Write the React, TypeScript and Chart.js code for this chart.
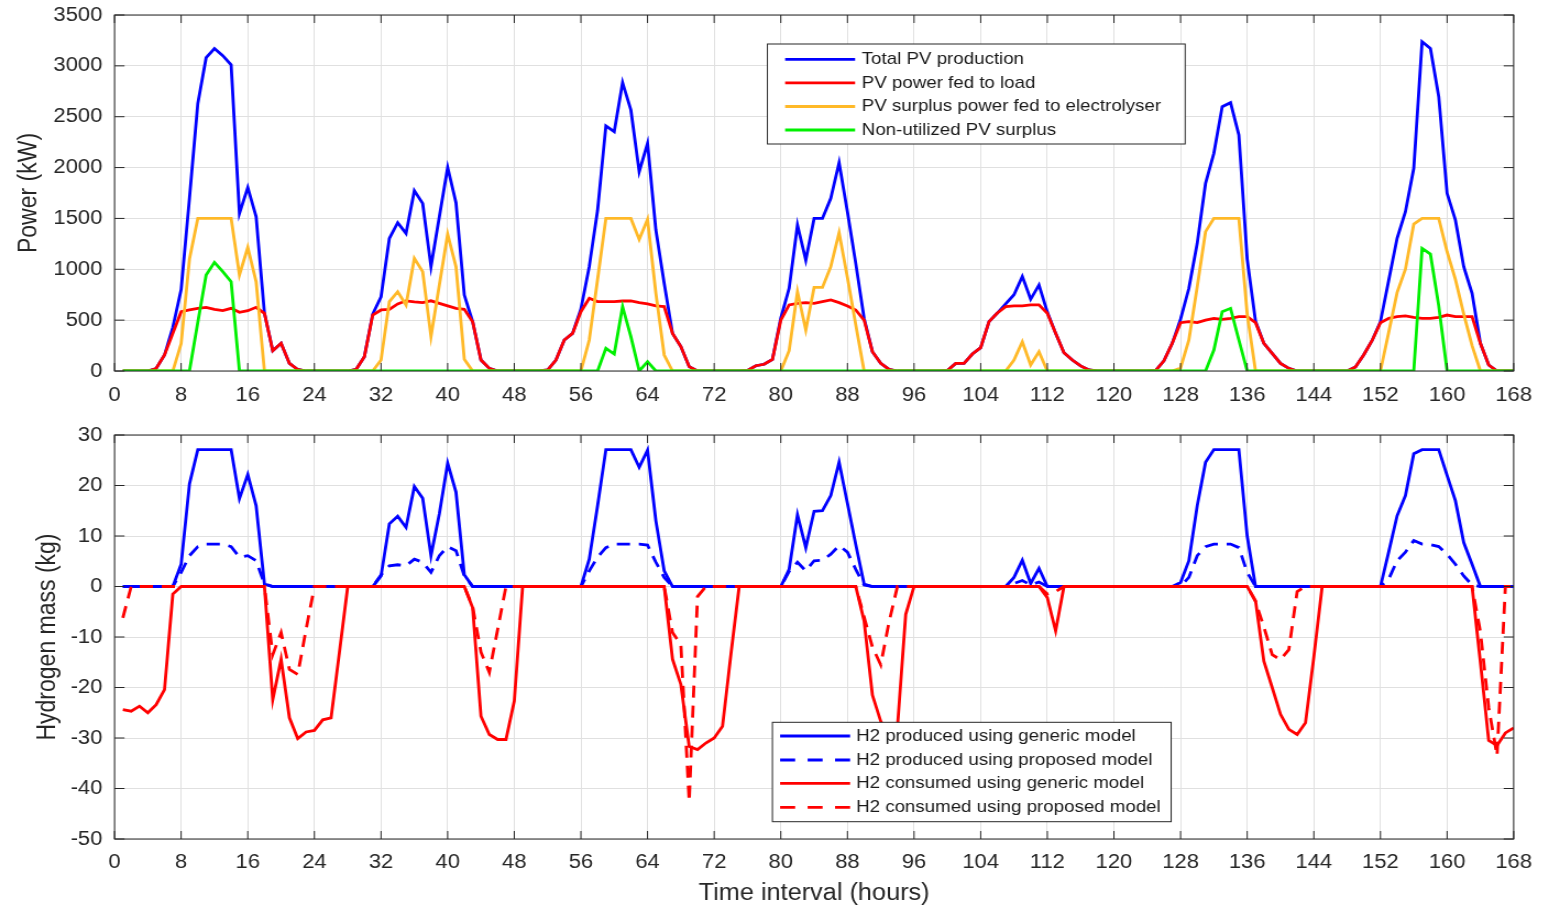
import React, { useEffect, useRef } from 'react';
import { Chart, registerables } from 'chart.js';

Chart.register(...registerables);

// ---------- data ----------
const HOURS = Array.from({ length: 168 }, (_, i) => i + 1);
const X_TICKS = [0, 8, 16, 24, 32, 40, 48, 56, 64, 72, 80, 88, 96, 104, 112, 120, 128, 136, 144, 152, 160, 168];
const POWER_TICKS = [0, 500, 1000, 1500, 2000, 2500, 3000, 3500];
const MASS_TICKS = [-50, -40, -30, -20, -10, 0, 10, 20, 30];

const TOTAL_PV = [
  0, 0, 0, 0, 25, 157, 430, 800, 1700, 2630, 3080, 3170, 3100, 3010, 1550, 1805, 1517, 570, 200, 272, 75, 15, 0, 0,
  0, 0, 0, 0, 15, 140, 560, 730, 1304, 1458, 1353, 1773, 1648, 1026, 1517, 2000, 1655, 747, 485, 108, 26, 0, 0, 0,
  0, 0, 0, 10, 108, 305, 370, 610, 1026, 1580, 2409, 2353, 2835, 2566, 1960, 2238, 1386, 862, 370, 240, 43, 0, 0, 0,
  0, 0, 0, 5, 52, 66, 115, 520, 813, 1435, 1091, 1500, 1500, 1698, 2048, 1566, 1058, 518, 190, 75, 16, 0, 0, 0,
  0, 0, 0, 5, 75, 75, 167, 230, 485, 570, 660, 750, 930, 705, 846, 580, 370, 180, 108, 50, 10, 0, 0, 0,
  0, 0, 0, 0, 5, 100, 272, 510, 813, 1255, 1845, 2140, 2599, 2638, 2320, 1100, 490, 272, 174, 75, 26, 0, 0, 0,
  0, 0, 0, 0, 40, 160, 300, 485, 895, 1304, 1566, 1993, 3238, 3172, 2697, 1747, 1485, 1026, 764, 272, 59, 0, 0, 0,
];
const PV_TO_LOAD = [
  0, 0, 0, 0, 25, 157, 370, 583, 600, 616, 626, 606, 593, 616, 577, 593, 626, 567, 200, 272, 75, 15, 0, 0,
  0, 0, 0, 0, 15, 140, 550, 600, 606, 660, 690, 680, 672, 690, 665, 640, 616, 606, 485, 108, 26, 0, 0, 0,
  0, 0, 0, 10, 108, 305, 370, 583, 715, 682, 682, 682, 688, 690, 672, 660, 640, 633, 370, 240, 43, 0, 0, 0,
  0, 0, 0, 5, 52, 66, 115, 500, 650, 665, 672, 665, 682, 698, 672, 640, 600, 501, 190, 75, 16, 0, 0, 0,
  0, 0, 0, 5, 75, 75, 167, 230, 485, 570, 632, 640, 640, 650, 650, 567, 370, 180, 108, 50, 10, 0, 0, 0,
  0, 0, 0, 0, 5, 100, 272, 475, 485, 475, 500, 518, 508, 518, 534, 534, 475, 272, 174, 75, 26, 0, 0, 0,
  0, 0, 0, 0, 40, 160, 300, 475, 518, 534, 541, 528, 518, 518, 528, 550, 534, 534, 534, 272, 59, 0, 0, 0,
];
const PV_TO_ELECTROLYSER = [
  0, 0, 0, 0, 0, 0, 0, 270, 1100, 1500, 1500, 1500, 1500, 1500, 944, 1216, 878, 0, 0, 0, 0, 0, 0, 0,
  0, 0, 0, 0, 0, 0, 0, 108, 682, 780, 649, 1108, 977, 338, 846, 1344, 1026, 115, 0, 0, 0, 0, 0, 0,
  0, 0, 0, 0, 0, 0, 0, 0, 305, 900, 1500, 1500, 1500, 1500, 1294, 1491, 764, 157, 0, 0, 0, 0, 0, 0,
  0, 0, 0, 0, 0, 0, 0, 0, 200, 780, 403, 822, 822, 1026, 1360, 920, 455, 0, 0, 0, 0, 0, 0, 0,
  0, 0, 0, 0, 0, 0, 0, 0, 0, 0, 0, 108, 288, 59, 190, 0, 0, 0, 0, 0, 0, 0, 0, 0,
  0, 0, 0, 0, 0, 0, 0, 30, 305, 829, 1370, 1500, 1500, 1500, 1500, 560, 0, 0, 0, 0, 0, 0, 0, 0,
  0, 0, 0, 0, 0, 0, 0, 0, 383, 770, 1000, 1445, 1500, 1500, 1500, 1173, 900, 560, 250, 0, 0, 0, 0, 0,
];
const NON_UTILIZED = [
  0, 0, 0, 0, 0, 0, 0, 0, 0, 480, 944, 1068, 977, 878, 0, 0, 0, 0, 0, 0, 0, 0, 0, 0,
  0, 0, 0, 0, 0, 0, 0, 0, 0, 0, 0, 0, 0, 0, 0, 0, 0, 0, 0, 0, 0, 0, 0, 0,
  0, 0, 0, 0, 0, 0, 0, 0, 0, 0, 223, 167, 632, 338, 0, 92, 0, 0, 0, 0, 0, 0, 0, 0,
  0, 0, 0, 0, 0, 0, 0, 0, 0, 0, 0, 0, 0, 0, 0, 0, 0, 0, 0, 0, 0, 0, 0, 0,
  0, 0, 0, 0, 0, 0, 0, 0, 0, 0, 0, 0, 0, 0, 0, 0, 0, 0, 0, 0, 0, 0, 0, 0,
  0, 0, 0, 0, 0, 0, 0, 0, 0, 0, 0, 206, 583, 616, 305, 0, 0, 0, 0, 0, 0, 0, 0, 0,
  0, 0, 0, 0, 0, 0, 0, 0, 0, 0, 0, 0, 1206, 1150, 640, 0, 0, 0, 0, 0, 0, 0, 0, 0,
];

const H2_PROD_GENERIC = [
  0, 0, 0, 0, 0, 0, 0, 4.4, 20.3, 27.1, 27.1, 27.1, 27.1, 27.1, 17.4, 22.2, 16.0, 0.5, 0, 0, 0, 0, 0, 0,
  0, 0, 0, 0, 0, 0, 0, 2.1, 12.4, 13.9, 11.7, 19.8, 17.5, 6.1, 14.4, 24.4, 18.7, 2.3, 0, 0, 0, 0, 0, 0,
  0, 0, 0, 0, 0, 0, 0, 0, 5.4, 16.0, 27.1, 27.1, 27.1, 27.1, 23.6, 27.0, 13.0, 3.1, 0, 0, 0, 0, 0, 0,
  0, 0, 0, 0, 0, 0, 0, 0, 3.4, 14.2, 7.7, 14.9, 15.0, 18.0, 24.6, 16.5, 8.3, 0.5, 0, 0, 0, 0, 0, 0,
  0, 0, 0, 0, 0, 0, 0, 0, 0, 0, 0, 1.8, 5.2, 0.6, 3.6, 0, 0, 0, 0, 0, 0, 0, 0, 0,
  0, 0, 0, 0, 0, 0, 0, 0.8, 5.1, 16.0, 24.6, 27.1, 27.1, 27.1, 27.1, 10.0, 0, 0, 0, 0, 0, 0, 0, 0,
  0, 0, 0, 0, 0, 0, 0, 0, 6.9, 14.0, 18.0, 26.3, 27.1, 27.1, 27.1, 22.0, 17.0, 8.7, 4.4, 0, 0, 0, 0, 0,
];
const H2_PROD_PROPOSED = [
  0, 0, 0, 0, 0, 0, 0, 2.8, 6.1, 7.9, 8.4, 8.4, 8.4, 7.9, 5.8, 6.1, 5.1, 0.5, 0, 0, 0, 0, 0, 0,
  0, 0, 0, 0, 0, 0, 0, 2.3, 4.1, 4.3, 4.1, 5.4, 4.8, 2.8, 6.1, 7.9, 7.1, 2.1, 0, 0, 0, 0, 0, 0,
  0, 0, 0, 0, 0, 0, 0, 0, 3.1, 5.8, 7.7, 8.4, 8.4, 8.4, 8.4, 8.2, 4.8, 1.8, 0, 0, 0, 0, 0, 0,
  0, 0, 0, 0, 0, 0, 0, 0, 3.0, 4.8, 3.1, 5.1, 5.2, 6.4, 8.1, 6.8, 3.4, 0.3, 0, 0, 0, 0, 0, 0,
  0, 0, 0, 0, 0, 0, 0, 0, 0, 0, 0, 0.6, 1.2, 0.3, 0.9, 0, 0, 0, 0, 0, 0, 0, 0, 0,
  0, 0, 0, 0, 0, 0, 0, 0, 1.8, 6.1, 7.9, 8.4, 8.4, 8.4, 7.7, 2.8, 0, 0, 0, 0, 0, 0, 0, 0,
  0, 0, 0, 0, 0, 0, 0, 0, 1.5, 5.1, 6.8, 9.1, 8.4, 8.3, 7.9, 6.4, 4.4, 2.1, 0.3, 0, 0, 0, 0, 0,
];
const H2_CONS_GENERIC = [
  -24.4, -24.7, -23.7, -25.0, -23.4, -20.4, -1.5, 0, 0, 0, 0, 0, 0, 0, 0, 0, 0, 0, -22.4, -14.4, -26.0, -30.1, -28.8, -28.5,
  -26.4, -26.0, -13.1, 0, 0, 0, 0, 0, 0, 0, 0, 0, 0, 0, 0, 0, 0, 0, -4.2, -25.7, -29.3, -30.3, -30.3, -22.7,
  0, 0, 0, 0, 0, 0, 0, 0, 0, 0, 0, 0, 0, 0, 0, 0, 0, 0, -14.4, -19.4, -31.7, -32.3, -31.0, -30.0,
  -27.7, -13.6, 0, 0, 0, 0, 0, 0, 0, 0, 0, 0, 0, 0, 0, 0, 0, -6.8, -21.5, -26.7, -29.5, -28.0, -5.5, 0,
  0, 0, 0, 0, 0, 0, 0, 0, 0, 0, 0, 0, 0, 0, 0, -2.2, -8.8, 0, 0, 0, 0, 0, 0, 0,
  0, 0, 0, 0, 0, 0, 0, 0, 0, 0, 0, 0, 0, 0, 0, 0, -2.8, -14.8, -20.0, -25.3, -28.3, -29.3, -27.0, -14.0,
  0, 0, 0, 0, 0, 0, 0, 0, 0, 0, 0, 0, 0, 0, 0, 0, 0, 0, 0, -15.0, -30.5, -31.5, -29.0, -28.0,
];
const H2_CONS_PROPOSED = [
  -6.2, 0, 0, 0, 0, 0, 0, 0, 0, 0, 0, 0, 0, 0, 0, 0, 0, 0, -13.5, -9.1, -16.4, -17.4, -8.5, 0,
  0, 0, 0, 0, 0, 0, 0, 0, 0, 0, 0, 0, 0, 0, 0, 0, 0, 0, -4.0, -13.0, -17.0, -8.5, 0, 0,
  0, 0, 0, 0, 0, 0, 0, 0, 0, 0, 0, 0, 0, 0, 0, 0, 0, 0, -9.1, -11.5, -42.6, -2.0, 0, 0,
  0, 0, 0, 0, 0, 0, 0, 0, 0, 0, 0, 0, 0, 0, 0, 0, 0, -6.0, -12.0, -15.5, -7.0, 0, 0, 0,
  0, 0, 0, 0, 0, 0, 0, 0, 0, 0, 0, 0, 0, 0, 0, -1.5, -1.0, 0, 0, 0, 0, 0, 0, 0,
  0, 0, 0, 0, 0, 0, 0, 0, 0, 0, 0, 0, 0, 0, 0, 0, -3.0, -8.0, -13.5, -14.5, -12.5, -1.0, 0, 0,
  0, 0, 0, 0, 0, 0, 0, 0, 0, 0, 0, 0, 0, 0, 0, 0, 0, 0, 0, -9.0, -24.0, -33.5, 0, 0,
];

// ---------- styling ----------
const SX = 1.1; // horizontal stretch of the original figure
const PAGE_W = 1560;
const CW = Math.round(PAGE_W / SX);
const PLOT_L = 114.5 / SX;
const PLOT_R = 1513.5 / SX;
const FONT = '"Liberation Sans", Arial, Helvetica, sans-serif';
const AXIS = '#262626';
const GRID = '#e0e0e0';
const LW = 2.8;
const BLUE = '#0000ff';
const RED = '#ff0000';
const YELLOW = '#ffb928';
const GREEN = '#00f000';
const DASH = [12, 8];

Chart.defaults.font.family = FONT;

const toXY = (vals: number[]) => vals.map((v, i) => ({ x: HOURS[i], y: v }));

const framePlugin = (yTicks: number[]) => ({
  id: 'matlabFrame',
  afterDatasetsDraw(chart: any) {
    const { ctx, chartArea: a, scales } = chart;
    ctx.save();
    ctx.strokeStyle = AXIS;
    ctx.lineWidth = 1;
    ctx.setLineDash([]);
    ctx.strokeRect(a.left, a.top, a.right - a.left, a.bottom - a.top);
    ctx.beginPath();
    for (const t of X_TICKS) {
      const x = scales.x.getPixelForValue(t);
      ctx.moveTo(x, a.bottom);
      ctx.lineTo(x, a.bottom - 8);
      ctx.moveTo(x, a.top);
      ctx.lineTo(x, a.top + 8);
    }
    for (const t of yTicks) {
      const y = scales.y.getPixelForValue(t);
      ctx.moveTo(a.left, y);
      ctx.lineTo(a.left + 10 / SX, y);
      ctx.moveTo(a.right, y);
      ctx.lineTo(a.right - 10 / SX, y);
    }
    ctx.stroke();
    ctx.restore();
  },
});

type LegendCfg = { left: number; right: number; top: number; bottom: number; lineX1: number; lineX2: number; textX: number; rows: number[] };

const legendPlugin = (cfg: LegendCfg) => ({
  id: 'boxLegend',
  afterDraw(chart: any) {
    const { ctx } = chart;
    const ds = chart.data.datasets;
    ctx.save();
    const l = cfg.left / SX, r = cfg.right / SX;
    ctx.fillStyle = '#ffffff';
    ctx.fillRect(l, cfg.top, r - l, cfg.bottom - cfg.top);
    ctx.strokeStyle = AXIS;
    ctx.lineWidth = 1;
    ctx.setLineDash([]);
    ctx.strokeRect(l, cfg.top, r - l, cfg.bottom - cfg.top);
    ds.forEach((d: any, i: number) => {
      const y = cfg.rows[i];
      const x1 = cfg.lineX1 / SX, x2 = cfg.lineX2 / SX;
      ctx.strokeStyle = d.borderColor;
      ctx.lineWidth = LW;
      if (d.borderDash && d.borderDash.length) {
        const len = x2 - x1;
        const dash = len * 0.215;
        ctx.setLineDash([dash, (len - 3 * dash) / 2]);
      } else ctx.setLineDash([]);
      ctx.beginPath();
      ctx.moveTo(x1, y);
      ctx.lineTo(x2, y);
      ctx.stroke();
      ctx.setLineDash([]);
      ctx.fillStyle = '#1a1a1a';
      ctx.font = `17px ${FONT}`;
      ctx.textBaseline = 'middle';
      ctx.textAlign = 'left';
      ctx.fillText(d.label, cfg.textX / SX, y);
    });
    ctx.restore();
  },
});

function buildOptions(o: { yMin: number; yMax: number; yTicks: number[]; xH: number; xPad: number; yTitle: string; yTitlePad: number; xTitle?: string }) {
  return {
    responsive: false,
    animation: false as const,
    devicePixelRatio: 1,
    events: [],
    layout: { padding: { left: 0, right: CW - PLOT_R, top: 15, bottom: 0 } },
    plugins: { legend: { display: false }, tooltip: { enabled: false } },
    elements: { point: { radius: 0 }, line: { tension: 0, borderWidth: LW } },
    scales: {
      x: {
        type: 'linear' as const,
        min: 0,
        max: 168,
        afterFit: (s: any) => { s.height = o.xH; s.paddingLeft = 0; s.paddingRight = 0; s.paddingTop = 0; s.paddingBottom = 0; },
        afterBuildTicks: (s: any) => { s.ticks = X_TICKS.map((v) => ({ value: v })); },
        ticks: { color: AXIS, font: { size: 20 }, padding: o.xPad, maxRotation: 0, autoSkip: false, callback: (v: any) => String(v) },
        grid: { color: GRID, lineWidth: 1, drawTicks: false },
        border: { display: false },
        title: o.xTitle
          ? { display: true, text: o.xTitle, color: AXIS, font: { size: 23 }, padding: { top: 0, bottom: 0 } }
          : { display: false },
      },
      y: {
        type: 'linear' as const,
        min: o.yMin,
        max: o.yMax,
        afterFit: (s: any) => { s.width = PLOT_L; s.paddingTop = 0; s.paddingBottom = 0; s.paddingLeft = 0; s.paddingRight = 0; },
        afterBuildTicks: (s: any) => { s.ticks = o.yTicks.map((v) => ({ value: v })); },
        ticks: { color: AXIS, font: { size: 20 }, padding: 11, callback: (v: any) => String(v) },
        grid: { color: GRID, lineWidth: 1, drawTicks: false },
        border: { display: false },
        title: { display: true, text: o.yTitle, color: AXIS, font: { size: 23 }, padding: { top: o.yTitlePad, bottom: 0 } },
      },
    },
  };
}

export default function App() {
  const topRef = useRef<HTMLCanvasElement>(null);
  const botRef = useRef<HTMLCanvasElement>(null);

  useEffect(() => {
    const top = new Chart(topRef.current as HTMLCanvasElement, {
      type: 'line',
      data: {
        datasets: [
          { label: 'Total PV production', data: toXY(TOTAL_PV), borderColor: BLUE, order: 4 },
          { label: 'PV power fed to load', data: toXY(PV_TO_LOAD), borderColor: RED, order: 3 },
          { label: 'PV surplus power fed to electrolyser', data: toXY(PV_TO_ELECTROLYSER), borderColor: YELLOW, order: 2 },
          { label: 'Non-utilized PV surplus', data: toXY(NON_UTILIZED), borderColor: GREEN, order: 1 },
        ],
      },
      options: buildOptions({ yMin: 0, yMax: 3500, yTicks: POWER_TICKS, xH: 420 - 371, xPad: 12, yTitle: 'Power (kW)', yTitlePad: 12.6 }) as any,
      plugins: [
        framePlugin(POWER_TICKS),
        legendPlugin({ left: 767.3, right: 1185, top: 44, bottom: 144, lineX1: 785, lineX2: 855, textX: 861.7, rows: [59.3, 82.9, 106.5, 130] }),
      ],
    });
    const bot = new Chart(botRef.current as HTMLCanvasElement, {
      type: 'line',
      data: {
        datasets: [
          { label: 'H2 produced using generic model', data: toXY(H2_PROD_GENERIC), borderColor: BLUE, order: 4 },
          { label: 'H2 produced using proposed model', data: toXY(H2_PROD_PROPOSED), borderColor: BLUE, borderDash: DASH, order: 3 },
          { label: 'H2 consumed using generic model', data: toXY(H2_CONS_GENERIC), borderColor: RED, order: 2 },
          { label: 'H2 consumed using proposed model', data: toXY(H2_CONS_PROPOSED), borderColor: RED, borderDash: DASH, order: 1 },
        ],
      },
      options: buildOptions({ yMin: -50, yMax: 30, yTicks: MASS_TICKS, xH: 487 - 419, xPad: 11, yTitle: 'Hydrogen mass (kg)', yTitlePad: 29.8, xTitle: 'Time interval (hours)' }) as any,
      plugins: [
        framePlugin(MASS_TICKS),
        legendPlugin({ left: 772.3, right: 1171, top: 302.3, bottom: 401.7, lineX1: 780, lineX2: 850, textX: 856, rows: [316, 340, 363.3, 387.3] }),
      ],
    });
    return () => {
      top.destroy();
      bot.destroy();
    };
  }, []);

  return (
    <div style={{ position: 'absolute', left: 0, top: 0, width: PAGE_W, height: 907, background: '#ffffff', overflow: 'hidden' }}>
      <canvas ref={topRef} width={CW} height={420} style={{ position: 'absolute', left: 0, top: 0, width: PAGE_W, height: 420 }} />
      <canvas ref={botRef} width={CW} height={487} style={{ position: 'absolute', left: 0, top: 420, width: PAGE_W, height: 487 }} />
    </div>
  );
}
